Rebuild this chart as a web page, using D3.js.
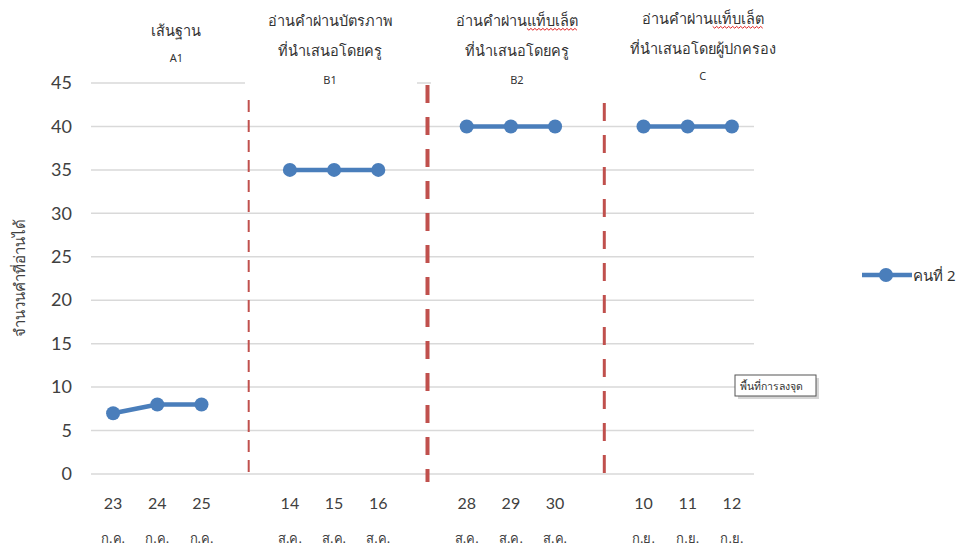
<!DOCTYPE html>
<html>
<head>
<meta charset="utf-8">
<script src="https://cdn.jsdelivr.net/npm/d3@7"></script>
<style>
  body { margin: 0; background: #fff; }
  text { font-family: "Noto Sans", "DejaVu Sans", sans-serif; }
</style>
</head>
<body>
<div id="chart-area"></div>
<script>
// data
var dayLabels = ["23", "24", "25", "", "14", "15", "16", "", "28", "29", "30", "", "10", "11", "12"];
var monthLabels = ["ก.ค.", "ก.ค.", "ก.ค.", "", "ส.ค.", "ส.ค.", "ส.ค.", "", "ส.ค.", "ส.ค.", "ส.ค.", "", "ก.ย.", "ก.ย.", "ก.ย."];
var scores = [7, 8, 8, null, 35, 35, 35, null, 40, 40, 40, null, 40, 40, 40];
var phaseBreaks = [3, 7, 11];
var phaseTitles = [
	["เส้นฐาน"],
	["อ่านคำผ่านบัตรภาพ", "ที่นำเสนอโดยครู"],
	["อ่านคำผ่าน|แท็บเล็ต", "ที่นำเสนอโดยครู"],
	["อ่านคำผ่าน|แท็บเล็ต", "ที่นำเสนอโดยผู้ปกครอง"]
];
var phaseCodes = ["A1", "B1", "B2", "C"];
var yTicks = [0, 5, 10, 15, 20, 25, 30, 35, 40, 45];
var seriesName = "คนที่ 2";
var yTitle = "จำนวนคำที่อ่านได้";
var noteText = "พื้นที่การลงจุด";

var W = 963, H = 549;
var plot = { left: 91, right: 754, top: 83, bottom: 474 };
var blue = "#4a7ebb", red = "#c0504d", grid = "#d9d9d9", ink = "#404040";

var svg = d3.select("#chart-area")
	.append("svg")
	.attr("width", W)
	.attr("height", H);

// Scales
var x = d3.scaleBand()
	.domain(d3.range(dayLabels.length))
	.range([plot.left, plot.right]);
var cx = function (i) { return x(i) + x.bandwidth() / 2; };

var y = d3.scaleLinear()
	.domain([0, 45])
	.range([plot.bottom, plot.top]);

// grid
svg.append("g")
	.selectAll("line")
	.data(yTicks)
	.enter()
	.append("line")
	.attr("x1", plot.left)
	.attr("x2", plot.right)
	.attr("y1", function (d) { return y(d); })
	.attr("y2", function (d) { return y(d); })
	.attr("stroke", grid)
	.attr("stroke-width", 1.5);

// Y axis
var yAxis = d3.axisLeft(y).tickValues(yTicks).tickSize(0).tickPadding(0);
var yg = svg.append("g")
	.attr("transform", "translate(" + (plot.left - 19) + ",0)")
	.call(yAxis);
yg.select(".domain").remove();
yg.selectAll("text")
	.attr("fill", ink)
	.style("font-family", "Lato, 'Noto Sans', sans-serif")
	.style("font-size", "18px");

svg.append("text")
	.attr("transform", "translate(25,278) rotate(-90)")
	.attr("text-anchor", "middle")
	.attr("fill", ink)
	.style("font-size", "15px")
	.text(yTitle);

// X labels
var xg = svg.append("g");
xg.selectAll("text.day")
	.data(dayLabels)
	.enter()
	.append("text")
	.attr("class", "day")
	.attr("x", function (d, i) { return cx(i); })
	.attr("y", 509)
	.attr("text-anchor", "middle")
	.attr("fill", ink)
	.style("font-family", "Lato, 'Noto Sans', sans-serif")
	.style("font-size", "16px")
	.text(function (d) { return d; });
xg.selectAll("text.month")
	.data(monthLabels)
	.enter()
	.append("text")
	.attr("class", "month")
	.attr("x", function (d, i) { return cx(i); })
	.attr("y", 543)
	.attr("text-anchor", "middle")
	.attr("fill", ink)
	.style("font-size", "13px")
	.text(function (d) { return d; });

// header boxes (white, they hide the top gridline)
var headerBoxes = [[245, 417], [431, 756]];
svg.append("g")
	.selectAll("rect")
	.data(headerBoxes)
	.enter()
	.append("rect")
	.attr("x", function (d) { return d[0]; })
	.attr("width", function (d) { return d[1] - d[0]; })
	.attr("y", 72)
	.attr("height", 20)
	.attr("fill", "#fff");

// phase headers
var headerShift = [19, -4, 6, 15];
var headerTop = [30, 20, 20, 18];
var codeY = [62, 84, 84, 80];
var groupCenter = function (p) {
	var start = p === 0 ? 0 : phaseBreaks[p - 1] + 1;
	return cx(start + 1);
};
var headers = svg.append("g");
phaseTitles.forEach(function (lines, p) {
	var hx = groupCenter(p) + headerShift[p];
	lines.forEach(function (line, k) {
		var parts = line.split("|");
		var t = headers.append("text")
			.attr("x", hx)
			.attr("y", headerTop[p] + k * 30 + 6)
			.attr("text-anchor", "middle")
			.attr("fill", "#333")
			.style("font-size", "14.5px");
		parts.forEach(function (s) { t.append("tspan").text(s); });
		if (parts.length > 1) {
			// spell-check squiggle under the second word
			var bb = t.node().getBBox();
			var w0 = t.select("tspan").node().getComputedTextLength();
			var x0 = bb.x + w0, x1 = bb.x + bb.width;
			var yy = bb.y + bb.height - 1;
			var pts = d3.range(x0, x1, 2).map(function (v, j) { return [v, yy + (j % 2 ? 1.2 : -0.6)]; });
			headers.append("path")
				.attr("d", d3.line()(pts))
				.attr("fill", "none")
				.attr("stroke", "#e02020")
				.attr("stroke-width", 1);
		}
	});
	headers.append("text")
		.attr("x", hx)
		.attr("y", codeY[p])
		.attr("text-anchor", "middle")
		.attr("fill", "#333")
		.style("font-size", "11px")
		.text(phaseCodes[p]);
});

// phase change lines
var breakStyle = [
	{ dx: 3, top: 100, bottom: 472, w: 2, dash: "12,8" },
	{ dx: 5, top: 85, bottom: 482, w: 4, dash: "18,14" },
	{ dx: 5, top: 103, bottom: 484, w: 3, dash: "18,14" }
];
svg.append("g")
	.selectAll("line")
	.data(phaseBreaks)
	.enter()
	.append("line")
	.attr("x1", function (d, i) { return cx(d) + breakStyle[i].dx; })
	.attr("x2", function (d, i) { return cx(d) + breakStyle[i].dx; })
	.attr("y1", function (d, i) { return breakStyle[i].top; })
	.attr("y2", function (d, i) { return breakStyle[i].bottom; })
	.attr("stroke", red)
	.attr("stroke-width", function (d, i) { return breakStyle[i].w; })
	.attr("stroke-dasharray", function (d, i) { return breakStyle[i].dash; });

// series
var line = d3.line()
	.defined(function (d) { return d !== null; })
	.x(function (d, i) { return cx(i); })
	.y(function (d) { return y(d); });

svg.append("path")
	.datum(scores)
	.attr("d", line)
	.attr("fill", "none")
	.attr("stroke", blue)
	.attr("stroke-width", 4.5)
	.attr("stroke-linejoin", "round");

svg.append("g")
	.selectAll("circle")
	.data(scores.map(function (v, i) { return { v: v, i: i }; }).filter(function (d) { return d.v !== null; }))
	.enter()
	.append("circle")
	.attr("cx", function (d) { return cx(d.i); })
	.attr("cy", function (d) { return y(d.v); })
	.attr("r", 7)
	.attr("fill", blue);

// legend
var legend = svg.append("g").attr("transform", "translate(862,275)");
legend.append("line")
	.attr("x1", 0).attr("x2", 50)
	.attr("stroke", blue).attr("stroke-width", 4.5);
legend.append("circle").attr("cx", 24).attr("r", 7).attr("fill", blue);
legend.append("text")
	.attr("x", 51)
	.attr("y", 6)
	.attr("fill", "#333")
	.style("font-size", "15px")
	.text(seriesName);

// plot area tooltip
var note = svg.append("g").attr("transform", "translate(735,375)");
note.append("rect")
	.attr("x", 3).attr("y", 3).attr("width", 81).attr("height", 21)
	.attr("fill", "#bbb").attr("opacity", 0.6);
note.append("rect")
	.attr("width", 81).attr("height", 21)
	.attr("fill", "#fff").attr("stroke", "#555").attr("stroke-width", 1);
note.append("text")
	.attr("x", 5).attr("y", 15)
	.attr("fill", "#333")
	.style("font-size", "10.5px")
	.text(noteText);
</script>
</body>
</html>
